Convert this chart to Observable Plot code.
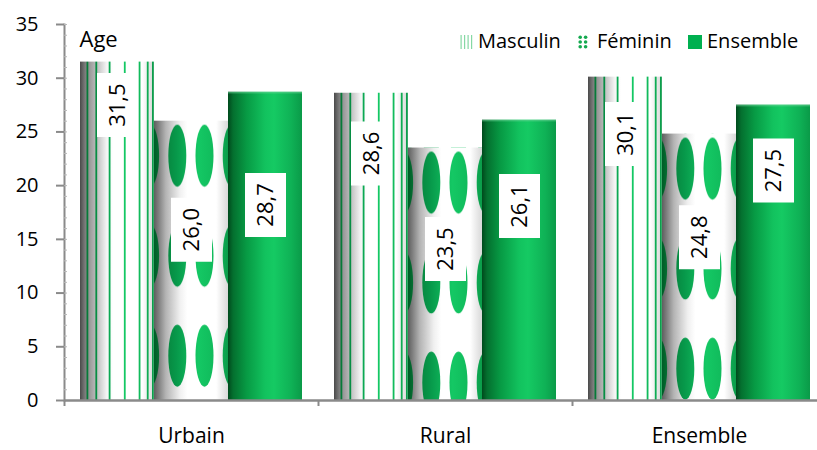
<!DOCTYPE html>
<html><head><meta charset="utf-8">
<script src="https://cdn.jsdelivr.net/npm/d3@7"></script>
<script src="https://cdn.jsdelivr.net/npm/@observablehq/plot@0.6"></script>
<style>
body{margin:0;background:#fff;}
#wrap{position:relative;width:817px;height:450px;font-family:"Open Sans",sans-serif;overflow:hidden;}
.leg{position:absolute;top:31.4px;font-size:20px;line-height:20px;color:#000;white-space:nowrap;}
.sw{position:absolute;}
</style></head><body><div id="wrap"></div>
<script>
const groups = ["Urbain", "Rural", "Ensemble"];
const seriesNames = ["Masculin", "Féminin", "Ensemble"];
const masculin = [31.5, 28.6, 30.1];
const feminin = [26.0, 23.5, 24.8];
const ensemble = [28.7, 26.1, 27.5];
const yTicks = [0, 5, 10, 15, 20, 25, 30, 35];
const yMinorTicks = d3.range(0, 36, 1);
// where each value label box sits, in axis units
const mascLabelAt = [27.5, 23.0, 24.8];
const femLabelAt = [15.9, 14.1, 15.2];
const ensLabelAt = [18.2, 18.1, 21.4];

const kinds = ["masc", "fem", "ens"];
const values = [masculin, feminin, ensemble];
const labelAt = [mascLabelAt, femLabelAt, ensLabelAt];
const seriesData = seriesNames.map((s, j) => groups.map((g, i) => ({
  group: g, series: s, value: values[j][i], at: labelAt[j][i],
  label: values[j][i].toFixed(1).replace(".", ","),
  key: `${kinds[j]}-${i}`
})));

const W = 817, H = 450, ML = 64, MR = -9, MT = 24, MB = 50;
const step = (W - MR - ML) / groups.length;       // 254
const padIn = 32 / step, padOut = padIn / 2;
const band = step * (1 - padIn);                   // 222
const sub = band / 3;                              // one bar

const labelBox = {draw(ctx) {
  ctx.moveTo(-20.5, -32); ctx.lineTo(20.5, -32); ctx.lineTo(20.5, 32); ctx.lineTo(-20.5, 32); ctx.closePath();
}};
const axisColor = "#8a8a8a";
const font = "'Open Sans', sans-serif";

const barMarks = [], labelMarks = [];
seriesData.forEach((d, j) => {
  barMarks.push(Plot.barY(d, {x: "group", y: "value", fill: e => `url(#bar-${e.key})`,
    insetLeft: j * sub, insetRight: (2 - j) * sub}));
  const dx = (j - 1) * sub;
  labelMarks.push(Plot.dot(d, {x: "group", y: "at", dx, symbol: labelBox, r: 5, fill: "white", stroke: "none"}));
  labelMarks.push(Plot.text(d, {x: "group", y: "at", dx, text: "label", rotate: -90, fontSize: 22, fill: "#000"}));
});

const svg = Plot.plot({
  width: W, height: H,
  marginTop: MT, marginBottom: MB, marginLeft: ML, marginRight: MR,
  style: {fontFamily: font, fontSize: "20px", color: "#000", background: "white", overflow: "visible"},
  x: {domain: groups, paddingInner: padIn, paddingOuter: padOut, label: null},
  y: {domain: [0, 35], label: null},
  color: {type: "identity"},
  marks: [
    ...barMarks,
    Plot.frame({anchor: "left", stroke: axisColor, strokeWidth: 2}),
    Plot.axisY(yMinorTicks, {tickSize: -3, tickFormat: () => "", stroke: "#b8b8b8", label: null}),
    Plot.axisY(yTicks, {tickSize: 8, tickPadding: 18, stroke: axisColor, strokeWidth: 2, fill: "#000", fontSize: 20, label: null}),
    Plot.ruleY([0], {stroke: axisColor, strokeWidth: 2.5}),
    Plot.axisX({anchor: "bottom", tickSize: 6, dx: -step / 2, tickFormat: () => "", stroke: axisColor, strokeWidth: 2, label: null}),
    Plot.axisX({anchor: "bottom", tickSize: 0, tickPadding: 28, fontSize: 21, fill: "#000", label: null}),
    ...labelMarks,
    Plot.text(["Age"], {text: d => d, frameAnchor: "top-left", textAnchor: "start", dx: 15, dy: 7, fontSize: 22, fill: "#000"})
  ]
});

// ---- fills: cylinder gradients and patterns, built per bar ----
const NS = "http://www.w3.org/2000/svg";
function el(tag, attrs, parent) {
  const e = document.createElementNS(NS, tag);
  for (const k in attrs) e.setAttribute(k, attrs[k]);
  if (parent) parent.appendChild(e);
  return e;
}
const defs = el("defs", {});
svg.insertBefore(defs, svg.firstChild);
function grad(id, stops, attrs = {}) {
  const g = el("linearGradient", Object.assign({id, x1: 0, y1: 0, x2: 1, y2: 0}, attrs), defs);
  for (const [o, c] of stops) el("stop", {offset: o, "stop-color": c}, g);
  return g;
}
grad("ensGrad", [[0, "#004a1d"], [0.07, "#04702f"], [0.25, "#079a44"], [0.5, "#12c25e"], [0.62, "#15ca63"], [0.85, "#0fb256"], [1, "#0a9a48"]]);
grad("mascBg", [[0, "#4a4a4a"], [0.05, "#6e6e6e"], [0.1, "#8e8e8e"], [0.22, "#bcbcbc"], [0.36, "#f4f4f4"], [0.45, "#ffffff"], [0.84, "#ffffff"], [1, "#d6d6d6"]]);
grad("femBg", [[0, "#5e5e5e"], [0.06, "#7e7e7e"], [0.16, "#b4b4b4"], [0.35, "#f0f0f0"], [0.45, "#ffffff"], [0.84, "#ffffff"], [1, "#d8d8d8"]]);

const rects = [...svg.querySelectorAll("rect")].filter(r => (r.getAttribute("fill") || "").startsWith("url(#bar-"));
let made = false;
for (const r of rects) {
  const id = r.getAttribute("fill").slice(5, -1);
  const x = +r.getAttribute("x"), y = +r.getAttribute("y");
  const w = +r.getAttribute("width"), h = +r.getAttribute("height");
  if (!made) {
    grad("greenAcross", [[0, "#005a26"], [0.12, "#07803b"], [0.3, "#07984a"], [0.6, "#14c864"], [0.85, "#10b85a"], [1, "#0b9c4a"]],
      {gradientUnits: "userSpaceOnUse", x1: 0, x2: w, y1: 0, y2: 0});
    made = true;
  }
  const p = el("pattern", {id, patternUnits: "userSpaceOnUse", x, y, width: w, height: h}, defs);
  const kind = id.split("-")[1];
  if (kind === "ens") {
    el("rect", {x: 0, y: 0, width: w, height: h, fill: "url(#ensGrad)"}, p);
    el("rect", {x: 0, y: 0, width: w, height: 1.5, fill: "#6fd69a", opacity: 0.6}, p);
  } else if (kind === "masc") {
    el("rect", {x: 0, y: 0, width: w, height: h, fill: "url(#mascBg)"}, p);
    for (const f of [0.1, 0.22, 0.4, 0.605, 0.805, 0.915, 0.985]) {
      el("rect", {x: f * w - 0.9, y: 0, width: 1.8, height: h, fill: "url(#greenAcross)"}, p);
    }
  } else {
    el("rect", {x: 0, y: 0, width: w, height: h, fill: "url(#femBg)"}, p);
    for (let cy = 35; cy < h + 40; cy += 100) {
      for (let c = -1; c <= 2; c++) {
        el("ellipse", {cx: 23.3 + c * 27.2, cy, rx: 9, ry: 31, fill: "url(#greenAcross)"}, p);
      }
    }
  }
}

const wrap = document.getElementById("wrap");
wrap.appendChild(svg);

// ---- legend ----
function addSwatch(left, top, w, h, draw) {
  const s = document.createElementNS(NS, "svg");
  s.setAttribute("width", w); s.setAttribute("height", h);
  s.setAttribute("class", "sw");
  s.style.left = left + "px"; s.style.top = top + "px";
  draw(s);
  wrap.appendChild(s);
}
function addText(left, txt) {
  const d = document.createElement("div");
  d.className = "leg"; d.style.left = left + "px"; d.textContent = txt;
  wrap.appendChild(d);
}
addSwatch(460, 35, 14, 14, s => {
  el("rect", {x: 0, y: 0, width: 14, height: 14, fill: "#fff"}, s);
  for (const lx of [0.5, 4, 7.5, 11]) el("rect", {x: lx, y: 0, width: 1.2, height: 14, fill: "#86d8a4"}, s);
});
addText(478, seriesNames[0]);
addSwatch(578, 35, 10, 14, s => {
  for (const cx of [2.2, 7.6]) for (const cy of [2.2, 7, 11.8]) el("circle", {cx, cy, r: 1.8, fill: "#14a94f"}, s);
});
addText(597, seriesNames[1]);
addSwatch(688, 35, 14, 14, s => {
  el("rect", {x: 0, y: 0, width: 14, height: 14, fill: "#00b050"}, s);
});
addText(707, seriesNames[2]);
</script></body></html>
